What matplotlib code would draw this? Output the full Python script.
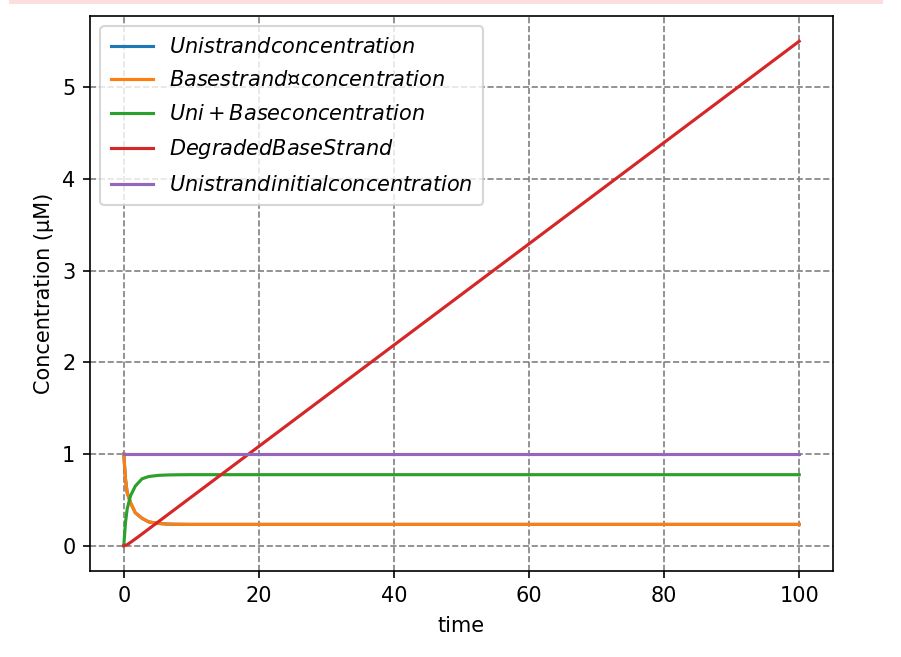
import matplotlib
matplotlib.use("Agg")
import matplotlib.pyplot as plt
from matplotlib.patches import Rectangle

# Values
time = [0, 0.25, 0.5, 1, 1.7, 2.7, 3.7, 5.2, 6.6, 8, 10, 15, 20, 100]
unistrand = [1.0, 0.73, 0.58, 0.47, 0.36, 0.30, 0.26, 0.243, 0.236, 0.234,
             0.233, 0.233, 0.233, 0.233]
basestrand = list(unistrand)
uni_base = [0.0, 0.25, 0.40, 0.545, 0.65, 0.73, 0.755, 0.768, 0.772, 0.774,
            0.775, 0.775, 0.775, 0.775]

degraded_time = [0, 0.5, 1, 2, 3, 100]
degraded = [0.0, 0.012, 0.037, 0.09, 0.145, 5.5]

initial_time = [0, 100]
initial = [1.0, 1.0]

labels = [
    r"$Unistrand concentration$",
    r"$Basestrand¤concentration$",
    r"$Uni + Base concentration$",
    r"$Degraded Base Strand$",
    r"$Unistrand initial concentration$",
]

fig = plt.figure(figsize=(901 / 150, 657 / 150), dpi=150)
ax = fig.add_axes([90 / 901, 1 - 571 / 657, 743 / 901, 555 / 657])

ax.plot(time, unistrand, label=labels[0])
ax.plot(time, basestrand, label=labels[1])
ax.plot(time, uni_base, label=labels[2])
ax.plot(degraded_time, degraded, label=labels[3])
ax.plot(initial_time, initial, label=labels[4])

ax.set_xlabel("time", labelpad=5)
ax.set_ylabel("Concentration (µM)")
ax.grid(linestyle="--", color="gray")
ax.legend(loc="upper left", labelspacing=0.65, borderpad=0.5)

# pink strip at the top of the screenshot
fig.patches.append(Rectangle((10 / 901, 1 - 3 / 657), 872 / 901, 3 / 657,
                             transform=fig.transFigure, color="#fddede", zorder=0))

fig.savefig("out.png", dpi=150)
